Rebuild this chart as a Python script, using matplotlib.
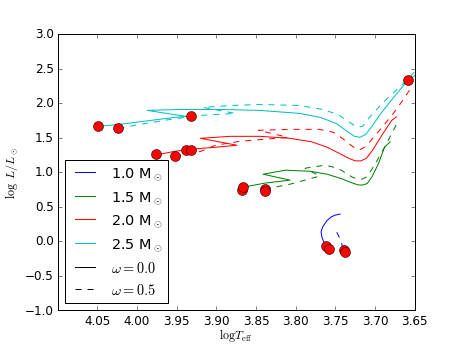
import matplotlib
matplotlib.use("Agg")
import matplotlib.pyplot as plt
from matplotlib.lines import Line2D

# evolutionary tracks: (log Teff, log L/Lsun)
m10_w00_T = [3.7606, 3.7650, 3.7670, 3.7680, 3.7660, 3.7606, 3.7550, 3.7500, 3.7440]
m10_w00_L = [-0.066, 0.000, 0.063, 0.140, 0.207, 0.300, 0.355, 0.380, 0.394]
m10_w05_T = [3.7400, 3.7440, 3.7490, 3.7490]
m10_w05_L = [-0.110, 0.034, 0.149, 0.207]

m15_w00_T = [3.866, 3.839, 3.807, 3.841, 3.813, 3.782, 3.760, 3.742, 3.730, 3.722, 3.716, 3.710, 3.704, 3.696, 3.688, 3.681]
m15_w00_L = [0.784, 0.842, 0.885, 0.971, 1.029, 1.014, 0.970, 0.905, 0.850, 0.818, 0.813, 0.835, 0.930, 1.116, 1.361, 1.440]
m15_w05_T = [3.839, 3.807, 3.770, 3.788, 3.763, 3.747, 3.737, 3.729, 3.722, 3.716, 3.710, 3.700, 3.686, 3.673]
m15_w05_L = [0.755, 0.827, 0.943, 1.058, 1.101, 1.058, 0.990, 0.930, 0.900, 0.900, 0.935, 1.116, 1.404, 1.692]

m20_w00_T = [3.9756, 3.952, 3.933, 3.901, 3.874, 3.920, 3.883, 3.845, 3.807, 3.780, 3.760, 3.743, 3.732, 3.725, 3.718, 3.711, 3.703, 3.690, 3.679, 3.673]
m20_w00_L = [1.250, 1.303, 1.332, 1.361, 1.390, 1.490, 1.519, 1.519, 1.490, 1.440, 1.360, 1.260, 1.195, 1.165, 1.163, 1.200, 1.320, 1.560, 1.750, 1.800]
m20_w05_T = [3.9517, 3.920, 3.901, 3.870, 3.810, 3.847, 3.807, 3.770, 3.752, 3.740, 3.731, 3.724, 3.718, 3.711, 3.700, 3.690, 3.673, 3.656]
m20_w05_L = [1.231, 1.300, 1.390, 1.447, 1.505, 1.606, 1.620, 1.620, 1.575, 1.480, 1.395, 1.340, 1.330, 1.380, 1.530, 1.664, 1.908, 2.196]

m25_w00_T = [4.0497, 4.0233, 3.983, 3.952, 3.938, 3.987, 3.945, 3.895, 3.845, 3.795, 3.768, 3.748, 3.735, 3.726, 3.719, 3.712, 3.704, 3.694, 3.681, 3.663, 3.650]
m25_w00_L = [1.663, 1.690, 1.749, 1.793, 1.807, 1.894, 1.908, 1.908, 1.894, 1.851, 1.790, 1.700, 1.590, 1.520, 1.505, 1.545, 1.660, 1.830, 2.020, 2.270, 2.400]
m25_w05_T = [4.0233, 3.996, 3.958, 3.920, 3.876, 3.9165, 3.883, 3.845, 3.795, 3.765, 3.746, 3.733, 3.724, 3.716, 3.707, 3.691, 3.675, 3.659, 3.650]
m25_w05_L = [1.634, 1.692, 1.764, 1.822, 1.851, 1.937, 1.965, 1.980, 1.965, 1.905, 1.830, 1.730, 1.660, 1.660, 1.793, 1.995, 2.168, 2.340, 2.456]

# red circles
dot_T = [4.0497, 4.0233, 3.9316, 3.6588, 3.9756, 3.9517, 3.9378, 3.9316,
         3.8675, 3.8662, 3.8385, 3.8385, 3.7619, 3.7581, 3.7392, 3.7380]
dot_L = [1.663, 1.634, 1.807, 2.327, 1.260, 1.231, 1.317, 1.317,
         0.740, 0.784, 0.755, 0.726, -0.067, -0.110, -0.125, -0.153]

masses = ["1.0", "1.5", "2.0", "2.5"]
colors = ["b", "g", "r", "c"]
omegas = ["0.0", "0.5"]

plt.style.use("classic")
plt.rcParams["mathtext.fontset"] = "cm"

fig = plt.figure(figsize=(6.4, 4.8), dpi=72, facecolor="white")
ax = fig.add_subplot(111)

tracks = [
    (m10_w00_T, m10_w00_L, m10_w05_T, m10_w05_L),
    (m15_w00_T, m15_w00_L, m15_w05_T, m15_w05_L),
    (m20_w00_T, m20_w00_L, m20_w05_T, m20_w05_L),
    (m25_w00_T, m25_w00_L, m25_w05_T, m25_w05_L),
]
for (t0, l0, t5, l5), c in zip(tracks, colors):
    ax.plot(t0, l0, "-", color=c, lw=1)
    ax.plot(t5, l5, "--", color=c, lw=1)

ax.plot(dot_T, dot_L, "o", color="r", mec="k", ms=10, ls="none")

handles = [Line2D([], [], color=c, ls="-") for c in colors]
labels = [m + r" M$_\odot$" for m in masses]
handles += [Line2D([], [], color="k", ls="-"), Line2D([], [], color="k", ls="--")]
labels += [r"$\omega=$" + "$" + w + "$" for w in omegas]
ax.legend(handles, labels, loc="lower left", fontsize=14.4, numpoints=2)

ax.set_xlim(4.10, 3.65)
ax.set_ylim(-1.0, 3.0)
ax.set_xticks([4.05, 4.00, 3.95, 3.90, 3.85, 3.80, 3.75, 3.70, 3.65])
ax.set_xlabel(r"$\mathrm{log}T_{\mathrm{eff}}$", labelpad=-1)
ax.set_ylabel(r"$\log\ L/L_\odot$")

fig.savefig("out.png", dpi=72, facecolor="white")
